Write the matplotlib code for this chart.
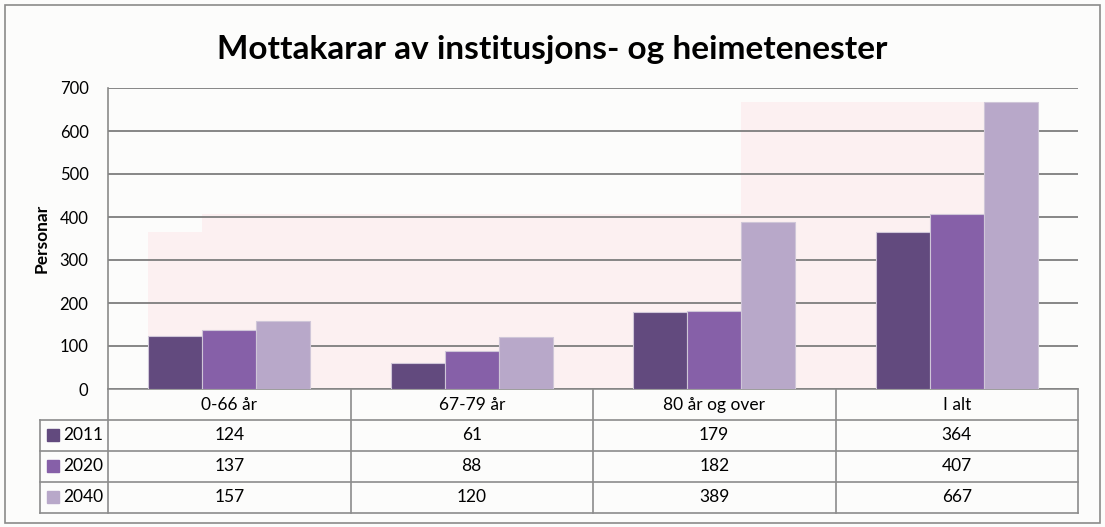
import matplotlib
matplotlib.use("Agg")
import matplotlib.pyplot as plt
from matplotlib.patches import Rectangle
from matplotlib.transforms import blended_transform_factory
import numpy as np

# ---- data ----
title = "Mottakarar av institusjons- og heimetenester"
ylabel = "Personar"
categories = ["0-66 år", "67-79 år", "80 år og over", "I alt"]
series_names = ["2011", "2020", "2040"]
v2011 = [124, 61, 179, 364]
v2020 = [137, 88, 182, 407]
v2040 = [157, 120, 389, 667]
yticks = [0, 100, 200, 300, 400, 500, 600, 700]

series_values = [v2011, v2020, v2040]
colors = ["#624a7e", "#8660a8", "#b8a8c9"]

W, H = 1105, 527
plt.rcParams['font.family'] = ['Lato', 'DejaVu Sans']
fig = plt.figure(figsize=(W / 100, H / 100), dpi=100)
bg = "#fcfcfb"
fig.patch.set_facecolor(bg)

L, R, T, B = 108, 1078, 88, 389
ax = fig.add_axes([L / W, 1 - B / H, (R - L) / W, (B - T) / H])
ax.set_facecolor(bg)

n = len(categories)
x = np.arange(n)
w = 1 / 4.5
offsets = [-w, 0, w]

ax.set_xlim(-0.5, n - 0.5)
ax.set_ylim(0, 700)

# faint pink reflection-like panels (derived from totals)
pink = "#fcf0f1"
right_edge = x[-1] + offsets[-1] + w / 2
ax.bar(x[0] + offsets[0] - w / 2, v2011[-1], width=right_edge - (x[0] + offsets[0] - w / 2),
       align='edge', color=pink, zorder=0.5, linewidth=0)
ax.bar(x[0] + offsets[1] - w / 2, v2020[-1], width=right_edge - (x[0] + offsets[1] - w / 2),
       align='edge', color=pink, zorder=0.6, linewidth=0)
ax.bar(x[2] + offsets[2] - w / 2, v2040[-1], width=right_edge - (x[2] + offsets[2] - w / 2),
       align='edge', color=pink, zorder=0.7, linewidth=0)

for vals, off, col in zip(series_values, offsets, colors):
    ax.bar(x + off, vals, width=w, color=col, edgecolor="#cfc6d8", linewidth=0.8, zorder=3)

ax.set_yticks(yticks)
ax.yaxis.grid(True, color="#868686", linewidth=1.4, zorder=1)
ax.set_axisbelow(False)
ax.tick_params(axis='y', length=0, pad=14, labelsize=12)
ax.set_xticks([])
for s in ["top", "right", "bottom"]:
    ax.spines[s].set_visible(False)
ax.spines["left"].set_color("#8a8a8a")
ax.spines["left"].set_linewidth(1.2)
for gl in ax.get_ygridlines():
    gl.set_zorder(1)

# title & y label
fig.text(552 / W, 1 - 50 / H, title, ha='center', va='center', fontsize=24, fontweight='bold')
fig.text(42 / W, 1 - 238 / H, ylabel, ha='center', va='center', rotation=90, fontsize=12.5,
         fontweight='bold')

# ---- data table ----
tr = blended_transform_factory(ax.transData, ax.transAxes)
ya = lambda py: (B - py) / (B - T)
lc = "#8c8c8c"
lw = 1.2
row_tops = [389, 420, 451, 482, 513]
x_left_lab = -0.5 - 68 / 242.5
x_bounds = [-0.5 + i for i in range(n + 1)]

# horizontal lines
ax.plot([x_bounds[0], x_bounds[-1]], [ya(389)] * 2, color=lc, lw=lw, transform=tr, clip_on=False)
for py in row_tops[1:]:
    ax.plot([x_left_lab, x_bounds[-1]], [ya(py)] * 2, color=lc, lw=lw, transform=tr, clip_on=False)
# vertical lines
for xb in x_bounds:
    ax.plot([xb, xb], [ya(389), ya(513)], color=lc, lw=lw, transform=tr, clip_on=False)
ax.plot([x_left_lab, x_left_lab], [ya(420), ya(513)], color=lc, lw=lw, transform=tr, clip_on=False)

# header
for xi, cat in zip(x, categories):
    ax.text(xi, ya(405), cat, ha='center', va='center', fontsize=12.5, transform=tr)
# rows
row_centers = [435, 466, 497]
sq = 12 / 242.5
for name, vals, col, yc in zip(series_names, series_values, colors, row_centers):
    ax.add_patch(Rectangle((-0.5 - 61 / 242.5, ya(yc + 6)), sq, (12) / (B - T), color=col,
                           transform=tr, clip_on=False))
    ax.text(-0.5 - 45 / 242.5, ya(yc), name, ha='left', va='center', fontsize=12.5, transform=tr)
    for xi, v in zip(x, vals):
        ax.text(xi, ya(yc), str(v), ha='center', va='center', fontsize=12.5, transform=tr)

# outer chart border
fig.add_artist(Rectangle((5 / W, 1 - 523 / H), 1095 / W, 518 / H, transform=fig.transFigure,
                         fill=False, edgecolor="#8a8a8a", linewidth=1.2))

fig.savefig("out.png", dpi=100, facecolor=fig.get_facecolor())
